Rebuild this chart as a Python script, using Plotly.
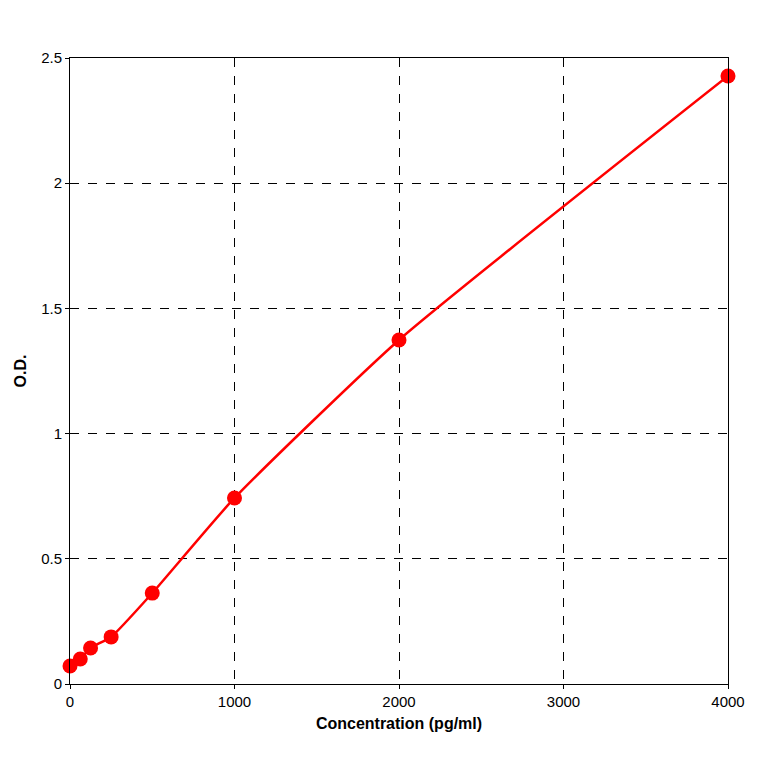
import plotly.graph_objects as go

conc = [0, 62.5, 125, 250, 500, 1000, 2000, 4000]
od = [0.072, 0.10, 0.144, 0.188, 0.363, 0.743, 1.374, 2.428]

fig = go.Figure()
fig.add_trace(go.Scatter(x=conc, y=od, mode="lines+markers",
    line=dict(color="#ff0000", width=2.5, shape="spline", smoothing=0.5),
    marker=dict(color="#ff0000", size=15, symbol="circle"), showlegend=False, cliponaxis=False))
ax = dict(showline=True, linecolor="black", linewidth=1, mirror=True,
          showgrid=True, gridcolor="black", griddash="dash", gridwidth=1,
          zeroline=False, ticks="outside", ticklen=4, tickcolor="black",
          tickfont=dict(family="Liberation Sans", size=15, color="black"))
fig.update_xaxes(range=[0, 4000], dtick=1000, **ax,
    title=dict(text="<b>Concentration (pg/ml)</b>", font=dict(family="Liberation Sans", size=16, color="black"), standoff=8))
fig.update_yaxes(range=[0, 2.5], dtick=0.5, **ax,
    title=dict(text="<b>O.D.</b>", font=dict(family="Liberation Sans", size=16, color="black"), standoff=10))
fig.update_layout(width=764, height=764, margin=dict(l=54, r=44, t=50, b=88),
    plot_bgcolor="white", paper_bgcolor="white")
fig.write_html("out.html")
